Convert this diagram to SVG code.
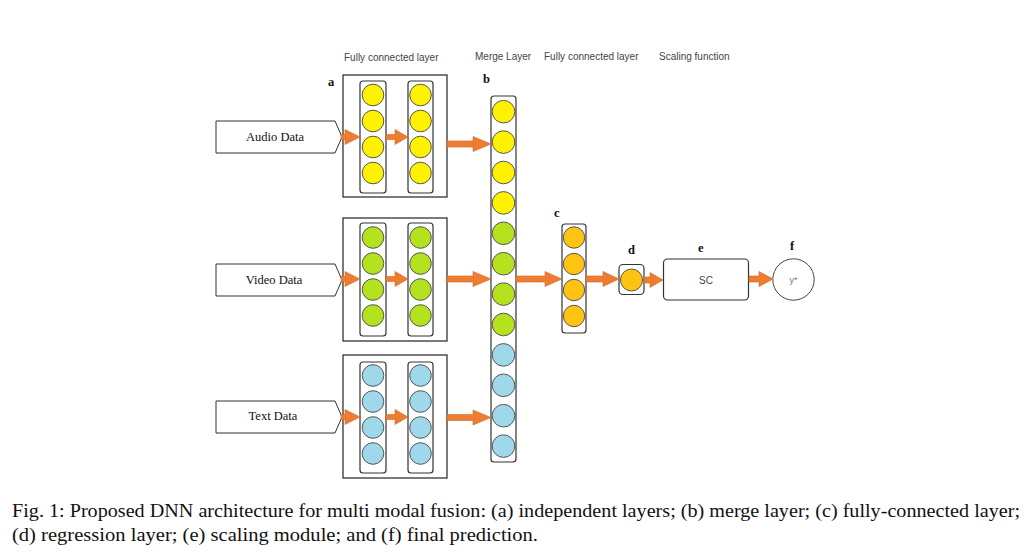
<svg xmlns="http://www.w3.org/2000/svg" width="1027" height="552" viewBox="0 0 1027 552">
<style>
.lbl{font-family:"Liberation Sans",Arial,sans-serif;font-size:10px;fill:#444}
.let{font-family:"Liberation Serif","Times New Roman",serif;font-size:12.5px;font-weight:bold;fill:#111}
.dat{font-family:"Liberation Serif","Times New Roman",serif;font-size:12.5px;fill:#111;text-anchor:middle}
.cap{font-family:"Liberation Serif","Times New Roman",serif;font-size:19px;fill:#111}
.blk{fill:#fff;stroke:#222;stroke-width:1.2}
.col{fill:#fff;stroke:#333;stroke-width:1.2}
.inp{fill:#fff;stroke:#333;stroke-width:1}
.y{fill:#FFF200;stroke:#555;stroke-width:1}
.g{fill:#B5E21E;stroke:#555;stroke-width:1}
.b{fill:#9ED8EA;stroke:#555;stroke-width:1}
.o{fill:#FFC314;stroke:#555;stroke-width:1}
.arr{fill:#ED7D31;stroke:#D0692A;stroke-width:0.6}
</style>

<g id="titles">
<text class="lbl" x="344" y="61">Fully connected layer</text>
<text class="lbl" x="475" y="60">Merge Layer</text>
<text class="lbl" x="544" y="60">Fully connected layer</text>
<text class="lbl" x="659" y="60">Scaling function</text>
<text class="let" x="328" y="86">a</text>
<text class="let" x="483" y="83">b</text>
<text class="let" x="554" y="217">c</text>
<text class="let" x="628" y="254">d</text>
<text class="let" x="698" y="252">e</text>
<text class="let" x="790" y="250">f</text>
</g>

<g id="audio-input">
<path class="inp" d="M216,121 H335 L342,137 L335,153 H216 Z"/>
<text class="dat" x="275" y="141">Audio Data</text>
</g>
<g id="video-input">
<path class="inp" d="M216,264 H335 L342,280 L335,296 H216 Z"/>
<text class="dat" x="274" y="284">Video Data</text>
</g>
<g id="text-input">
<path class="inp" d="M216,401 H335 L342,417 L335,433 H216 Z"/>
<text class="dat" x="273" y="420">Text Data</text>
</g>

<g id="audio-layers">
<rect class="blk" x="343" y="75" width="104" height="122"/>
<rect class="col" x="360" y="81" width="26" height="112" rx="3"/>
<rect class="col" x="408" y="81" width="25" height="112" rx="3"/>
<circle class="y" cx="373" cy="95" r="10.8"/>
<circle class="y" cx="373" cy="121" r="10.8"/>
<circle class="y" cx="373" cy="147" r="10.8"/>
<circle class="y" cx="373" cy="173" r="10.8"/>
<circle class="y" cx="420.5" cy="95" r="10.8"/>
<circle class="y" cx="420.5" cy="121" r="10.8"/>
<circle class="y" cx="420.5" cy="147" r="10.8"/>
<circle class="y" cx="420.5" cy="173" r="10.8"/>
</g>

<g id="video-layers">
<rect class="blk" x="343" y="218" width="104" height="123"/>
<rect class="col" x="360" y="223" width="26" height="113" rx="3"/>
<rect class="col" x="408" y="223" width="25" height="113" rx="3"/>
<circle class="g" cx="373" cy="237.5" r="10.8"/>
<circle class="g" cx="373" cy="263.5" r="10.8"/>
<circle class="g" cx="373" cy="289.5" r="10.8"/>
<circle class="g" cx="373" cy="315.5" r="10.8"/>
<circle class="g" cx="420.5" cy="237.5" r="10.8"/>
<circle class="g" cx="420.5" cy="263.5" r="10.8"/>
<circle class="g" cx="420.5" cy="289.5" r="10.8"/>
<circle class="g" cx="420.5" cy="315.5" r="10.8"/>
</g>

<g id="text-layers">
<rect class="blk" x="343" y="355" width="104" height="123"/>
<rect class="col" x="360" y="362" width="26" height="111" rx="3"/>
<rect class="col" x="408" y="362" width="25" height="111" rx="3"/>
<circle class="b" cx="373" cy="375.5" r="10.8"/>
<circle class="b" cx="373" cy="401.5" r="10.8"/>
<circle class="b" cx="373" cy="427.5" r="10.8"/>
<circle class="b" cx="373" cy="453.5" r="10.8"/>
<circle class="b" cx="420.5" cy="375.5" r="10.8"/>
<circle class="b" cx="420.5" cy="401.5" r="10.8"/>
<circle class="b" cx="420.5" cy="427.5" r="10.8"/>
<circle class="b" cx="420.5" cy="453.5" r="10.8"/>
</g>

<g id="merge-layer">
<rect class="col" x="491" y="96" width="25" height="366" rx="3"/>
<circle class="y" cx="503.5" cy="111.7" r="11.3"/>
<circle class="y" cx="503.5" cy="142.1" r="11.3"/>
<circle class="y" cx="503.5" cy="172.5" r="11.3"/>
<circle class="y" cx="503.5" cy="202.9" r="11.3"/>
<circle class="g" cx="503.5" cy="233.3" r="11.3"/>
<circle class="g" cx="503.5" cy="263.7" r="11.3"/>
<circle class="g" cx="503.5" cy="294.1" r="11.3"/>
<circle class="g" cx="503.5" cy="324.5" r="11.3"/>
<circle class="b" cx="503.5" cy="354.9" r="11.3"/>
<circle class="b" cx="503.5" cy="385.3" r="11.3"/>
<circle class="b" cx="503.5" cy="415.7" r="11.3"/>
<circle class="b" cx="503.5" cy="446.1" r="11.3"/>
</g>

<g id="fc-layer">
<rect class="col" x="562" y="224" width="24" height="109" rx="3"/>
<circle class="o" cx="574" cy="237.5" r="10.7"/>
<circle class="o" cx="574" cy="264" r="10.7"/>
<circle class="o" cx="574" cy="290" r="10.7"/>
<circle class="o" cx="574" cy="316" r="10.7"/>
</g>

<g id="regression-layer">
<rect class="col" x="619" y="264.5" width="25" height="30" rx="4"/>
<circle class="o" cx="631.5" cy="280" r="11"/>
</g>

<g id="scaling-module">
<rect class="col" x="663.5" y="259" width="85" height="41" rx="4"/>
<text class="lbl" x="706" y="284" text-anchor="middle">SC</text>
</g>

<g id="prediction">
<circle fill="#fff" stroke="#444" stroke-width="1" cx="793.5" cy="279.5" r="20.7"/>
<text x="793.5" y="283" text-anchor="middle" font-family="Liberation Sans, Arial, sans-serif" font-size="9" fill="#777">y*</text>
</g>

<g id="connectors">
<polygon class="arr" points="341,134.5 345,134.5 345,129.5 360,137 345,144.5 345,139.5 341,139.5"/>
<polygon class="arr" points="386,134.5 395,134.5 395,129.5 408,137 395,144.5 395,139.5 386,139.5"/>
<polygon class="arr" points="447,141 473,141 473,136.5 491,144 473,151.5 473,147 447,147"/>
<polygon class="arr" points="341,276.5 345,276.5 345,271.5 360,279 345,286.5 345,281.5 341,281.5"/>
<polygon class="arr" points="386,276.5 395,276.5 395,271.5 408,279 395,286.5 395,281.5 386,281.5"/>
<polygon class="arr" points="447,276 473,276 473,271.5 491,279 473,286.5 473,282 447,282"/>
<polygon class="arr" points="341,414.5 345,414.5 345,409.5 360,417 345,424.5 345,419.5 341,419.5"/>
<polygon class="arr" points="386,414.5 395,414.5 395,409.5 408,417 395,424.5 395,419.5 386,419.5"/>
<polygon class="arr" points="447,414.5 473,414.5 473,410 491,417.5 473,425 473,420.5 447,420.5"/>
<polygon class="arr" points="516,276 545,276 545,271.5 562,279 545,286.5 545,282 516,282"/>
<polygon class="arr" points="586,276 603,276 603,271.5 619,279 603,286.5 603,282 586,282"/>
<polygon class="arr" points="644,277 650,277 650,272.5 663,280 650,287.5 650,283 644,283"/>
<polygon class="arr" points="749,276 759,276 759,271.5 773,279 759,286.5 759,282 749,282"/>
</g>

<g id="caption">
<text class="cap" x="12" y="517" textLength="1008" lengthAdjust="spacingAndGlyphs">Fig. 1: Proposed DNN architecture for multi modal fusion: (a) independent layers; (b) merge layer; (c) fully-connected layer;</text>
<text class="cap" x="12" y="541" textLength="526" lengthAdjust="spacingAndGlyphs">(d) regression layer; (e) scaling module; and (f) final prediction.</text>
</g>
</svg>
